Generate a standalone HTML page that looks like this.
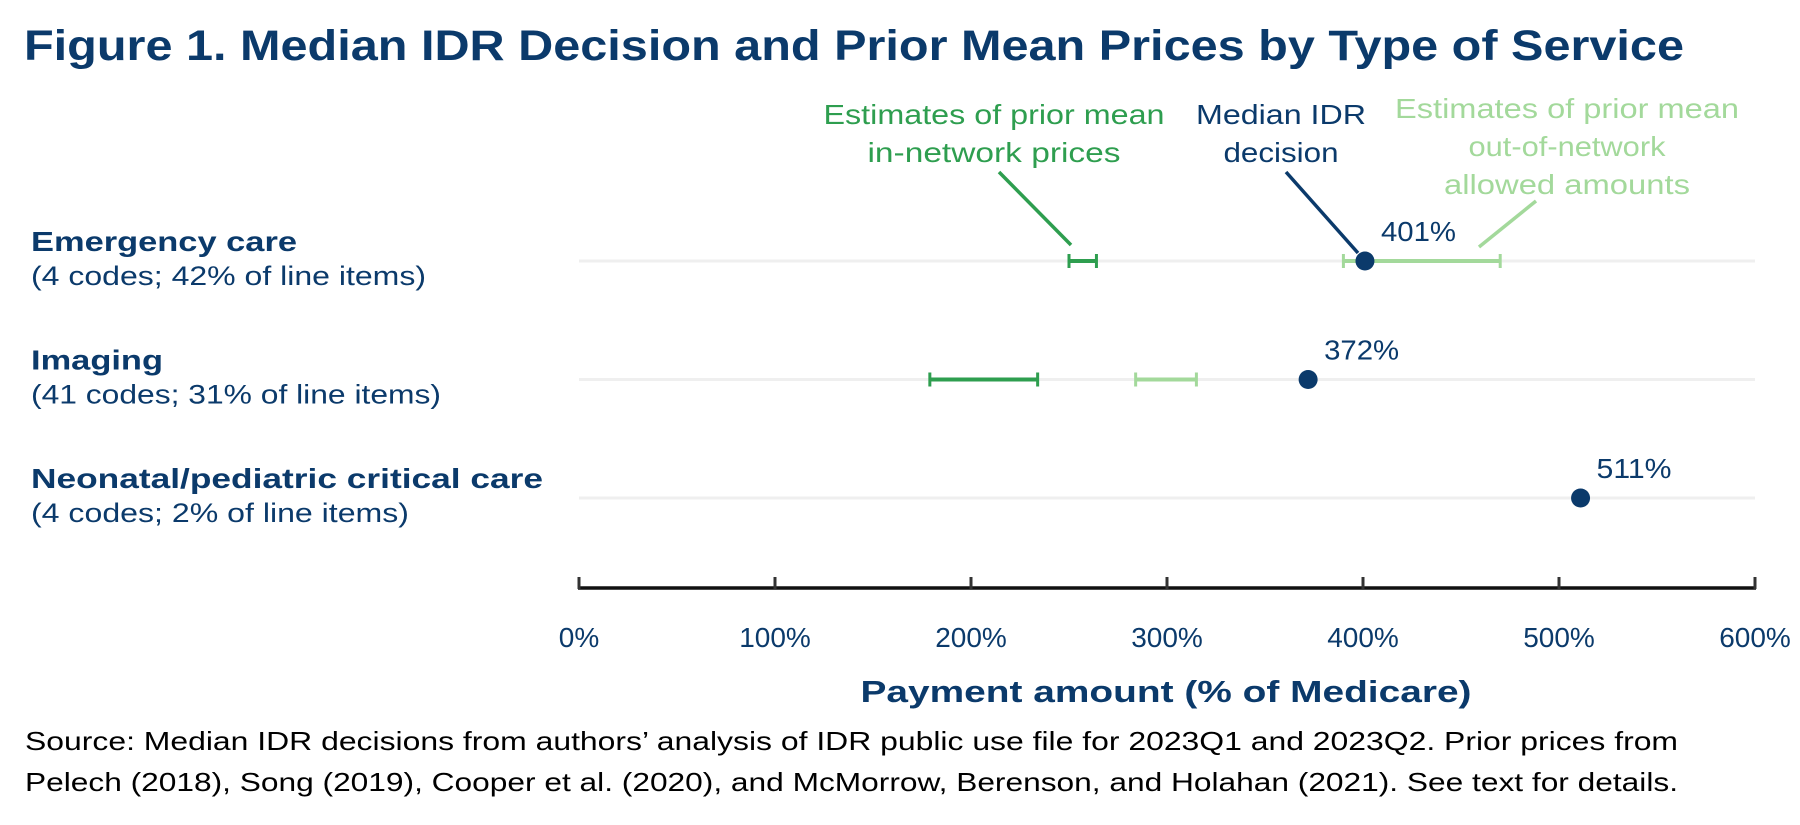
<!DOCTYPE html>
<html><head><meta charset="utf-8"><style>
html,body{margin:0;padding:0;background:#fff;}
svg{display:block;font-family:"Liberation Sans",sans-serif;}
</style></head><body>
<svg id="chart" width="1800" height="825" viewBox="0 0 1800 825">
<text x="24" y="60" font-size="43" font-weight="bold" fill="#0b3a6b" textLength="1660" lengthAdjust="spacingAndGlyphs">Figure 1. Median IDR Decision and Prior Mean Prices by Type of Service</text>
<g id="plot"></g>
<g font-size="28" lengthAdjust="spacingAndGlyphs">
<text x="994" y="124" fill="#2e9e4f" text-anchor="middle" textLength="341" lengthAdjust="spacingAndGlyphs">Estimates of prior mean</text>
<text x="994" y="162" fill="#2e9e4f" text-anchor="middle" textLength="253" lengthAdjust="spacingAndGlyphs">in-network prices</text>
<line x1="999" y1="172" x2="1071" y2="245" stroke="#2e9e4f" stroke-width="3.5"/>
<text x="1281" y="124" fill="#0b3a6b" text-anchor="middle" textLength="170" lengthAdjust="spacingAndGlyphs">Median IDR</text>
<text x="1281" y="162" fill="#0b3a6b" text-anchor="middle" textLength="115" lengthAdjust="spacingAndGlyphs">decision</text>
<line x1="1286" y1="172" x2="1358" y2="253" stroke="#0b3a6b" stroke-width="3.5"/>
<text x="1567" y="118" fill="#a3d99b" text-anchor="middle" textLength="344" lengthAdjust="spacingAndGlyphs">Estimates of prior mean</text>
<text x="1567" y="156" fill="#a3d99b" text-anchor="middle" textLength="197" lengthAdjust="spacingAndGlyphs">out-of-network</text>
<text x="1567" y="194" fill="#a3d99b" text-anchor="middle" textLength="246" lengthAdjust="spacingAndGlyphs">allowed amounts</text>
<line x1="1536" y1="201" x2="1479" y2="247" stroke="#a3d99b" stroke-width="3.5"/>
</g>
<text x="1166" y="702" font-size="31" font-weight="bold" fill="#0b3a6b" text-anchor="middle" textLength="611" lengthAdjust="spacingAndGlyphs">Payment amount (% of Medicare)</text>
<text x="25" y="750" font-size="26" fill="#000" textLength="1653" lengthAdjust="spacingAndGlyphs">Source: Median IDR decisions from authors’ analysis of IDR public use file for 2023Q1 and 2023Q2. Prior prices from</text>
<text x="25" y="791" font-size="26" fill="#000" textLength="1653" lengthAdjust="spacingAndGlyphs">Pelech (2018), Song (2019), Cooper et al. (2020), and McMorrow, Berenson, and Holahan (2021). See text for details.</text>
</svg>
<script>
const categories = ["Emergency care","Imaging","Neonatal/pediatric critical care"];
const subtitles = ["(4 codes; 42% of line items)","(41 codes; 31% of line items)","(4 codes; 2% of line items)"];
const medianIDR = [401, 372, 511];
const inNetLow = [250, 179, null];
const inNetHigh = [264, 234, null];
const oonLow = [390, 284, null];
const oonHigh = [470, 315, null];
const ticks = [0,100,200,300,400,500,600];
const tickLabels = ["0%","100%","200%","300%","400%","500%","600%"];

const catWidths = [266,132,512];
const subWidths = [395,410,378];
const NS="http://www.w3.org/2000/svg";
const x = v => 579 + v*1.96;
const rowY = i => 261 + i*118.5;
const g = document.getElementById('plot');
function mk(tag, attrs, parent){const e=document.createElementNS(NS,tag);for(const k in attrs)e.setAttribute(k,attrs[k]);(parent||g).appendChild(e);return e;}

categories.forEach((c,i)=>{
  const y=rowY(i);
  const gl=mk('line',{x1:x(0),x2:x(600),y1:y,y2:y,stroke:'#efefef','stroke-width':3});
  
  
  const t=mk('text',{x:31,y:y-10,'font-size':28,'font-weight':'bold',fill:'#0b3a6b',textLength:catWidths[i],lengthAdjust:'spacingAndGlyphs'});
  t.textContent=c;
  
  
  const s=mk('text',{x:31,y:y+24,'font-size':27,fill:'#0b3a6b',textLength:subWidths[i],lengthAdjust:'spacingAndGlyphs'});
  s.textContent=subtitles[i];
  
  
  function range(lo,hi,col,name){
    if(lo==null)return;
    const r=mk('g',{});
    
    
    mk('line',{x1:x(lo),x2:x(hi),y1:y,y2:y,stroke:col,'stroke-width':4},r);
    mk('line',{x1:x(lo),x2:x(lo),y1:y-7,y2:y+7,stroke:col,'stroke-width':3},r);
    mk('line',{x1:x(hi),x2:x(hi),y1:y-7,y2:y+7,stroke:col,'stroke-width':3},r);
  }
  range(inNetLow[i],inNetHigh[i],'#2e9e4f','in-network-range');
  range(oonLow[i],oonHigh[i],'#a3d99b','out-of-network-range');
  const d=mk('circle',{cx:x(medianIDR[i]),cy:y,r:9.5,fill:'#0b3a6b'});
  
  
  const l=mk('text',{x:x(medianIDR[i])+16,y:y-20,'font-size':28,fill:'#0b3a6b',textLength:75,lengthAdjust:'spacingAndGlyphs'});
  l.textContent=medianIDR[i]+'%';
  
  
});
const ax=mk('line',{x1:x(0)-1,x2:x(600)+1,y1:588,y2:588,stroke:'#111','stroke-width':3.5});


ticks.forEach((t,i)=>{
  const tk=mk('line',{x1:x(t),x2:x(t),y1:577,y2:589,stroke:'#333','stroke-width':3});
  
  
  const tl=mk('text',{x:x(t),y:647,'font-size':28,fill:'#0b3a6b','text-anchor':'middle'});
  tl.textContent=tickLabels[i];
  
  
});
</script>
</body></html>
